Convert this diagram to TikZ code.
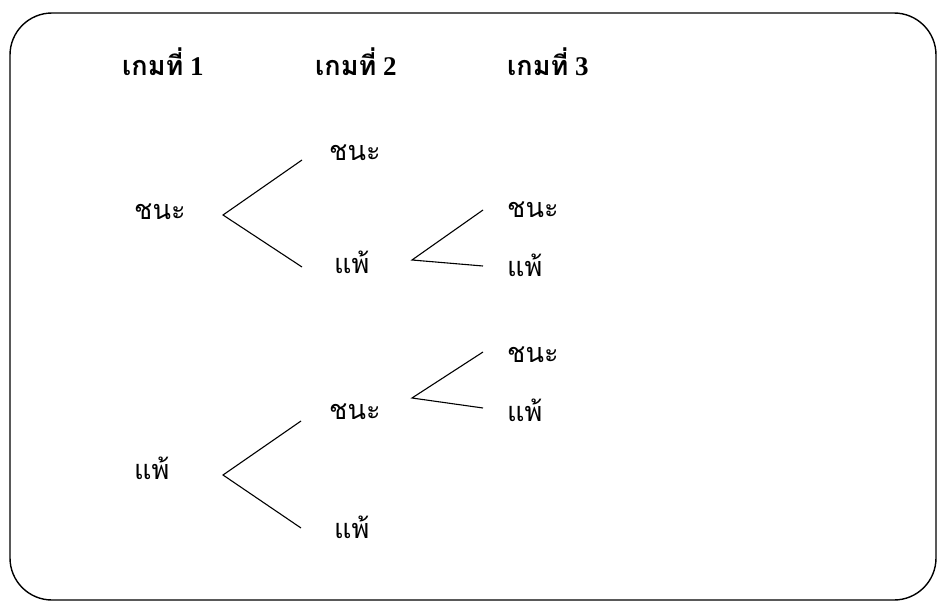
\documentclass[tikz,border=0pt]{standalone}
\usepackage{fontspec}
\setmainfont{Liberation Serif}
\newfontfamily\thaifont[Script=Thai]{Loma}
\usetikzlibrary{calc}
\begin{document}
\begin{tikzpicture}[x=1pt,y=-1pt,
  lbl/.style={font=\thaifont\fontsize{27}{30}\selectfont, inner sep=0pt, anchor=west},
  hdr/.style={font=\fontsize{27}{30}\selectfont\bfseries, inner sep=0pt, anchor=west},
  branch/.style={line width=1.1pt, black}]
  % page and frame
  \useasboundingbox (0,0) rectangle (940,602);
  \fill[white] (0,0) rectangle (940,602);
  \draw[line width=1.4pt, rounded corners=42pt] (10,13) rectangle (936,600);

  % column headings
  \node[hdr] (g1) at (122,62) {{\thaifont\bfseries เกมที่} 1};
  \node[hdr] (g2) at (315,62) {{\thaifont\bfseries เกมที่} 2};
  \node[hdr] (g3) at (507,62) {{\thaifont\bfseries เกมที่} 3};

  % game 1
  \node[lbl] (w1) at (134,212) {ชนะ};
  \node[lbl] (l1) at (134,468) {แพ้};
  % game 2
  \node[lbl] (w1w) at (329,153) {ชนะ};
  \node[lbl] (w1l) at (334,262) {แพ้};
  \node[lbl] (l1w) at (329,412) {ชนะ};
  \node[lbl] (l1l) at (334,527) {แพ้};
  % game 3
  \node[lbl] (w1lw) at (507,210) {ชนะ};
  \node[lbl] (w1ll) at (507,265) {แพ้};
  \node[lbl] (l1ww) at (507,355) {ชนะ};
  \node[lbl] (l1wl) at (507,410) {แพ้};

  % branch points
  \coordinate (b1) at (223,215);
  \coordinate (b2) at (223,475);
  \coordinate (b3) at (412,260);
  \coordinate (b4) at (412,398);

  % branches
  \draw[branch] ([shift={(-27,7)}]w1w.west) -- (b1) -- ([shift={(-32,5)}]w1l.west);
  \draw[branch] ([shift={(-28,9)}]l1w.west) -- (b2) -- ([shift={(-33,1)}]l1l.west);
  \draw[branch] ([shift={(-24,0)}]w1lw.west) -- (b3) -- ([shift={(-24,1)}]w1ll.west);
  \draw[branch] ([shift={(-24,-3)}]l1ww.west) -- (b4) -- ([shift={(-24,-2)}]l1wl.west);
\end{tikzpicture}
\end{document}
